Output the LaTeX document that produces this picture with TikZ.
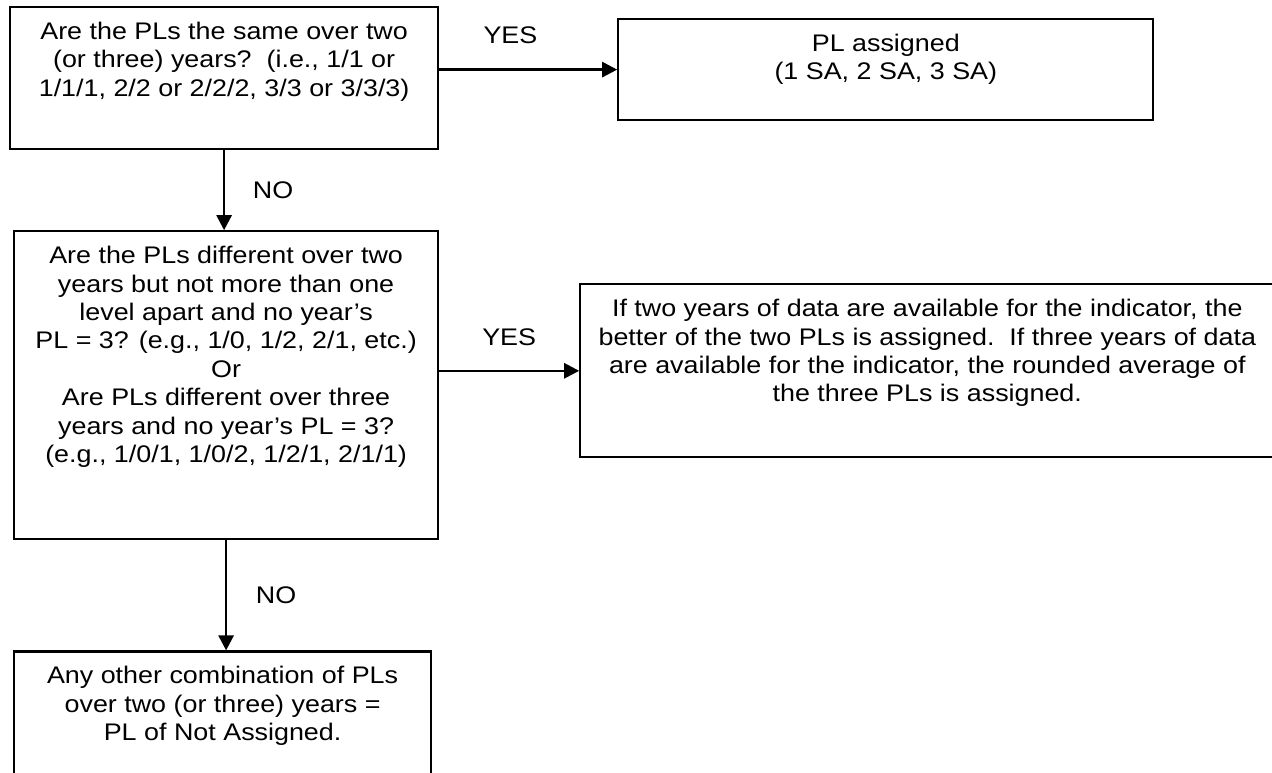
\documentclass[tikz,border=0pt]{standalone}
\usepackage{fontspec}
\setmainfont[FakeStretch=1.12]{Liberation Sans}
\usetikzlibrary{arrows.meta,positioning}
\newcommand{\boxpad}{6.3pt}
\newcommand{\boxtext}[3]{\parbox[c][#2][t]{#1}{\centering\vspace*{\boxpad}\strut#3}}

\begin{document}
\begin{tikzpicture}[x=0.5pt, y=-0.5pt, every node/.style={font=\fontsize{12}{14.2}\selectfont}, box/.style={draw, line width=1.1pt, inner sep=0pt, anchor=north west}, arrow/.style={-{Triangle[length=7.5pt, width=7.5pt]}, line width=1.3pt}]
\useasboundingbox (0,0) rectangle (1272,772);
\node[box] (same) at (9,6) {\boxtext{214pt}{71pt}{Are the PLs the same over two\\(or three) years?\ \ (i.e., 1/1 or\\1/1/1, 2/2 or 2/2/2, 3/3 or 3/3/3)}};
\node[box, right=89pt of same.north east, anchor=north west, yshift=-6pt] (assigned) {\boxtext{267.5pt}{50.5pt}{PL assigned\\(1 SA, 2 SA, 3 SA)}};
\node[box, below=40pt of same.south west, anchor=north west, xshift=2pt] (differ) {\boxtext{212pt}{154pt}{Are the PLs different over two\\years but not more than one\\level apart and no year’s\\PL = 3? (e.g., 1/0, 1/2, 2/1, etc.)\\Or\\Are PLs different over three\\years and no year’s PL = 3?\\(e.g., 1/0/1, 1/0/2, 1/2/1, 2/1/1)}};
\node[box, right=70pt of differ.north east, anchor=north west, yshift=-26.5pt] (average) {\boxtext{347pt}{86.5pt}{If two years of data are available for the indicator, the\\better of the two PLs is assigned.\ \ If three years of data\\are available for the indicator, the rounded average of\\the three PLs is assigned.}};
\node[box, below=55pt of differ.south west, anchor=north west] (other) {\boxtext{208.5pt}{67pt}{Any other combination of PLs\\over two (or three) years =\\PL of Not Assigned.}};
\draw[arrow] (same.east |- assigned.west) -- node[pos=.4, yshift=17pt] (yes1) {YES} (assigned.west);
\draw[arrow] (same.south) -- node[xshift=24.5pt] (no1) {NO} (same.south |- differ.north);
\draw[arrow] (differ.east |- average.west) -- node[yshift=17pt] (yes2) {YES} (average.west);
\draw[arrow] (differ.south) -- node[xshift=25pt] (no2) {NO} (differ.south |- other.north);
\end{tikzpicture}
\end{document}
